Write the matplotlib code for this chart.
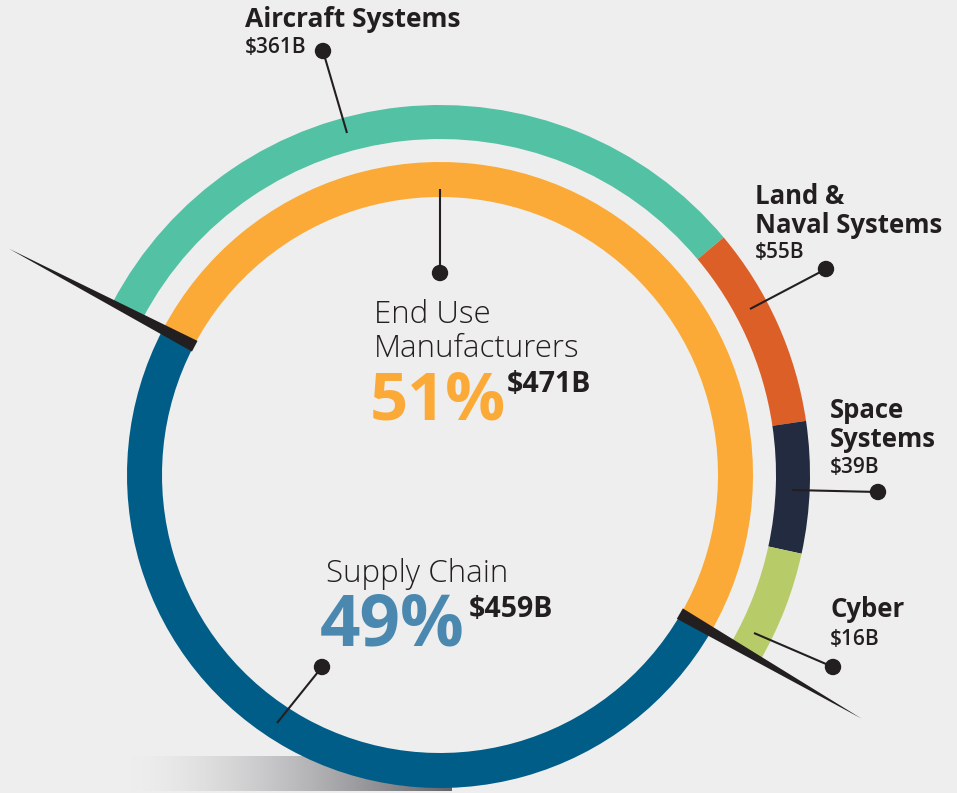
import matplotlib.pyplot as plt
import numpy as np
from matplotlib.patches import Circle, Polygon

W, H = 957, 793

# inner ring: end use manufacturers vs supply chain
split_names = ["End Use\nManufacturers", "Supply Chain"]
split_values = [471, 459]   # $B
split_pct = [51, 49]

# outer ring: the end use part broken down
segment_names = ["Aircraft Systems", "Land &\nNaval Systems", "Space\nSystems", "Cyber"]
segment_values = [361, 55, 39, 16]   # $B
# the original is not drawn to scale, these are the arc sizes read off the ring (deg)
segment_arcs = [114, 32, 21, 18]

BG = "#eeeeee"
TEXT = "#231f20"
ORANGE = "#fbaa37"
BLUE = "#005d88"
BLUE_TXT = "#4a88b0"
segment_colors = ["#52c1a4", "#dc5f27", "#232b40", "#b7cc69"]

plt.rcParams['font.family'] = ['Open Sans', 'DejaVu Sans']

cx, cy = 440, H - 475
start = 152.3

fig = plt.figure(figsize=(W / 100, H / 100), dpi=100, facecolor=BG)
ax = fig.add_axes([0, 0, 1, 1])
ax.set_facecolor(BG)

# rings
end_span = 360 * split_values[0] / sum(split_values)
arcs = [a * end_span / sum(segment_arcs) for a in segment_arcs]
outer, _ = ax.pie(arcs + [360 - end_span], radius=370, center=(cx, cy), startangle=start,
                  counterclock=False, colors=segment_colors + ["none"],
                  wedgeprops=dict(width=34, linewidth=0))
outer[-1].set_visible(False)
ax.pie(split_values, radius=313, center=(cx, cy), startangle=start, counterclock=False,
       colors=[ORANGE, BLUE], wedgeprops=dict(width=35, linewidth=0))

# black tapered dividers on the two ring boundaries
c = np.array([cx, cy])
for ang in [start, start - end_span]:
    t = np.radians(ang)
    u = np.array([np.cos(t), np.sin(t)])
    n = np.array([-u[1], u[0]])
    pts = [c + 277 * u + 6 * n, c + 277 * u - 6 * n, c + 487 * u]
    ax.add_patch(Polygon(pts, closed=True, color=TEXT, lw=0, zorder=3))

# shadow under the ring
grad = np.linspace(0, 1, 256) ** 1.5
bg = np.array([238, 238, 238]) / 255
dark = np.array([100, 100, 106]) / 255
img = bg + (dark - bg) * grad[:, None]
ax.imshow(img[None, :, :], extent=[130, 452, H - 791, H - 756], aspect='auto', zorder=0)

# leader lines with dots (pixel coords from top)
leaders = [((347, 133), (323, 51)), ((750, 309), (826, 269)), ((792, 490), (878, 492)),
           ((754, 633), (833, 667)), ((440, 189), (440, 273)), ((277, 723), (322, 667))]
for (x0, y0), (x1, y1) in leaders:
    ax.plot([x0, x1], [H - y0, H - y1], color=TEXT, lw=1.5, zorder=4, solid_capstyle='butt')
    ax.add_patch(Circle((x1, H - y1), 7.5, color=TEXT, zorder=5))


def txt(x, y, s, size, weight='normal', color=TEXT):
    ax.text(x, H - y, s, fontsize=size, fontweight=weight, color=color,
            ha='left', va='baseline', zorder=6)


# segment labels: (x, first baseline, value baseline, size)
label_pos = [(245, 27, 53, 19), (755, 204, 258, 18.5), (830, 418, 473, 18.5), (830, 617, 645, 18.5)]
for name, val, (x, y, yv, fs) in zip(segment_names, segment_values, label_pos):
    for i, line in enumerate(name.split("\n")):
        txt(x, y + i * 29, line, fs, 'bold')
    txt(x, yv, f"${val}B", 15, 'semibold')

# centre labels
for i, line in enumerate(split_names[0].split("\n")):
    txt(374, 323 + i * 34, line, 22.5, 'light')
txt(370, 420, f"{split_pct[0]}%", 48, 'bold', ORANGE)
txt(507, 392, f"${split_values[0]}B", 20.5, 'bold')

txt(326, 582, split_names[1], 22.5, 'light')
txt(320, 645, f"{split_pct[1]}%", 51, 'bold', BLUE_TXT)
txt(469, 617, f"${split_values[1]}B", 20.5, 'bold')

ax.set_xlim(0, W)
ax.set_ylim(0, H)
ax.set_aspect('equal')
ax.axis('off')

fig.savefig('out.png', dpi=100, facecolor=BG)
